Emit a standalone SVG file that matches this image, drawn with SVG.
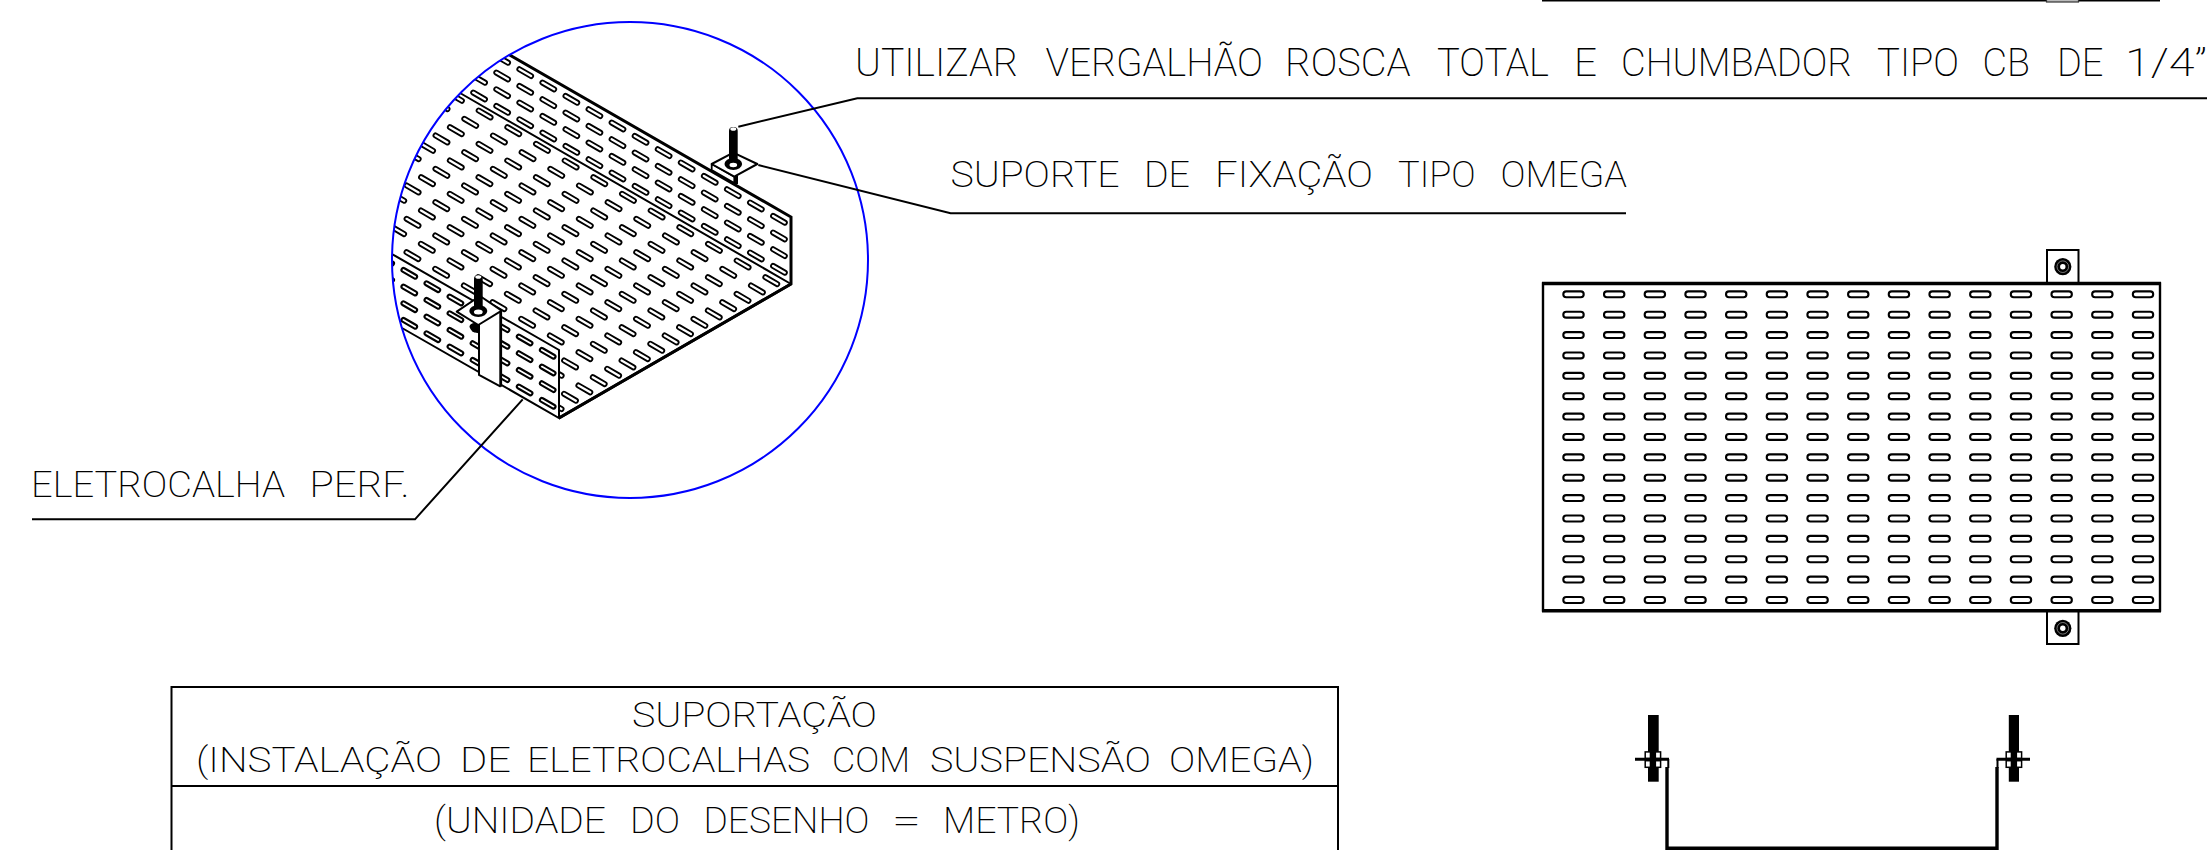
<svg xmlns="http://www.w3.org/2000/svg" width="2208" height="850" viewBox="0 0 2208 850">
<style>
text{font-family:"Roboto","Liberation Sans",sans-serif;font-weight:200;fill:#000}
.l{fill:none;stroke:#000;stroke-width:2}
.s{fill:none;stroke:#000;stroke-linecap:round}
.b{fill:#000}
.w{fill:#fff}
.slot-o{fill:none;stroke:#000;stroke-linecap:round;stroke-width:6}
.slot-i{fill:none;stroke:#fff;stroke-linecap:round;stroke-width:2.3}
.plan-o{fill:none;stroke:#000;stroke-linecap:round;stroke-width:8;stroke-dasharray:14.5 26.18}
.plan-i{fill:none;stroke:#fff;stroke-linecap:round;stroke-width:3.8;stroke-dasharray:14.5 26.18}
.d1{stroke-dasharray:13.7 19.46}
.d2{stroke-dasharray:13.5 13.14}
</style>
<defs>
<clipPath id="cCircle"><circle cx="630" cy="260" r="238"/></clipPath>
<clipPath id="cFloor"><polygon points="380,46.8 791,284 559,418 559,350 380,247"/></clipPath>
<clipPath id="cWall"><polygon points="400,-8.2 791,217 791,284 400,58.4"/></clipPath>
<clipPath id="cNear"><polygon points="380,247 559,350 559,418 380,315.4"/></clipPath>
<path id="pFloor" d="M205.65 202.15l355.9 206.9m-341.52 -215.23l355.9 206.9m-341.52 -215.23l355.9 206.9m-341.52 -215.23l355.9 206.9m-341.52 -215.23l355.9 206.9m-341.52 -215.23l355.9 206.9m-341.52 -215.23l355.9 206.9m-341.52 -215.23l355.9 206.9m-341.52 -215.23l355.9 206.9m-341.52 -215.23l355.9 206.9m-341.52 -215.23l355.9 206.9m-341.52 -215.23l355.9 206.9m-341.52 -215.23l355.9 206.9m-341.52 -215.23l355.9 206.9m-341.52 -215.23l355.9 206.9m-341.52 -215.23l355.9 206.9"/>
<path id="pWall" d="M404.05 2.62l380.8 220.06m-380.8 -203.39l380.8 220.06m-380.8 -203.39l380.8 220.06m-380.8 -203.39l380.8 220.06"/>
<path id="pNear" d="M357.3 243.3l196.3 113.4m-196.3 -96.73l196.3 113.4m-196.3 -96.73l196.3 113.4m-196.3 -96.73l196.3 113.4"/>
<path id="pPlan" d="M1566.25 294.3h584m-584 20.38h584m-584 20.38h584m-584 20.38h584m-584 20.38h584m-584 20.38h584m-584 20.38h584m-584 20.38h584m-584 20.38h584m-584 20.38h584m-584 20.38h584m-584 20.38h584m-584 20.38h584m-584 20.38h584m-584 20.38h584m-584 20.38h584"/>
<g id="ring"><circle r="8.6" class="b"/><circle r="5.8" fill="none" stroke="#aaa" stroke-width=".7"/><circle r="2.7" class="w"/></g>
<g id="nutpair">
<rect x="-7.7" y="-7.6" width="15.4" height="6.4" class="w" stroke="#000" stroke-width="1.5"/>
<rect x="-7.7" y="1.2" width="15.4" height="6.6" class="w" stroke="#000" stroke-width="1.5"/>
<rect x="-3.2" y="-7.6" width="6.4" height="15.4" class="b"/>
</g>
</defs>

<g id="top-edge-fragment">
<path class="l" d="M1542 .5H2160"/>
<rect x="2046.5" y="-2" width="32" height="4" fill="#bbb" stroke="#333" stroke-width="1.2"/>
</g>

<g id="detail-isometric">
<g clip-path="url(#cCircle)">
<g id="tray">
<g clip-path="url(#cFloor)"><use href="#pFloor" class="slot-o d1"/><use href="#pFloor" class="slot-i d1"/></g>
<g clip-path="url(#cWall)"><use href="#pWall" class="slot-o d2"/><use href="#pWall" class="slot-i d2"/></g>
<g clip-path="url(#cNear)"><use href="#pNear" class="slot-o d2"/><use href="#pNear" class="slot-i d2" style="stroke-width:1.8"/></g>
<path class="l" style="stroke-width:3" d="M508 54L791 217V284L559 418"/>
<path class="l" d="M460 93L791 284M392 254L559 350V418L402 328"/>
<path class="l" style="stroke-width:2.8" d="M559 418L791 284"/>
</g>
</g>
</g>

<g id="bracket-far">
<rect x="733" y="176" width="5" height="8" class="b"/>
<polygon points="711.7,164 734.3,176.7 734.3,183 711.7,170" class="w" stroke="#000" stroke-width="1.8" stroke-linejoin="round"/>
<polygon points="711.7,164 733.3,152.7 757.3,164 734.3,176.7" class="w" stroke="#000" stroke-width="2" stroke-linejoin="round"/>
<ellipse cx="733.3" cy="164" rx="8.8" ry="6" class="b"/>
<rect x="729" y="127" width="8.7" height="36" rx="4" class="b"/>
<ellipse cx="733.3" cy="129" rx="3" ry="1.8" class="w"/>
<ellipse cx="733.3" cy="165" rx="3.8" ry="2.2" class="w"/>
</g>

<g id="bracket-near">
<ellipse cx="476.8" cy="327.5" rx="6.5" ry="5.2" class="b"/>
<polygon points="479,323 500.7,311 500.7,386.7 479,375" class="w"/>
<path class="l" d="M479 323V375L500.7 386.7"/>
<path class="l" style="stroke-width:2.8" d="M500.7 311V386.7"/>
<polygon points="456.7,311.7 480,296 501.7,310.7 478.3,325" class="w" stroke="#000" stroke-width="2" stroke-linejoin="round"/>
<ellipse cx="478.3" cy="311" rx="9" ry="6" class="b"/>
<rect x="474" y="275" width="8.7" height="35" rx="4" class="b"/>
<ellipse cx="478.3" cy="277" rx="3" ry="1.8" class="w"/>
<ellipse cx="478.3" cy="312" rx="4.4" ry="2.5" class="w"/>
</g>

<circle id="detail-circle" cx="630" cy="260" r="238" fill="none" stroke="#0000ff" stroke-width="2"/>

<g id="connectors">
<path class="l" d="M738.3 126.7L857.3 98.3H2207"/>
<path class="l" d="M758.3 165L950.6 213.3H1626"/>
<path class="l" d="M522.7 399.3L415 519.3H32"/>
</g>

<g id="plan-view">
<use href="#pPlan" class="plan-o"/>
<use href="#pPlan" class="plan-i"/>
<rect x="1543" y="283.5" width="617" height="327" fill="none" stroke="#000" stroke-width="2.4"/>
<path class="l" style="stroke-width:3.6" d="M1542 283.5H2161M1542 610.7H2161"/>
<path class="l" d="M2047 283V250H2078.5V283M2047 611V644H2078.5V611"/>
<use href="#ring" x="2062.8" y="266.7"/>
<use href="#ring" x="2062.8" y="628.3"/>
</g>

<g id="section-view">
<path class="l" style="stroke-width:3.4" d="M1667 767V848.3H1997V767"/>
<path class="l" style="stroke-width:2" d="M1668.3 759V768M1997.5 759V768"/>
<rect x="1648" y="715" width="10.7" height="66.7" class="b"/>
<rect x="2008.8" y="715" width="10.2" height="66.7" class="b"/>
<path class="l" style="stroke-width:3" d="M1635 759.3H1669M1996.5 759.3H2030"/>
<use href="#nutpair" x="1652.9" y="759.5"/>
<use href="#nutpair" x="2013.9" y="759.5"/>
<path class="l" style="stroke-width:2.6" d="M1645 759.3H1660M2006 759.3H2022"/>
</g>

<g id="title-table">
<path class="l" d="M171.5 850V687H1338V850M171.5 786H1338"/>
<text y="726.7" font-size="35"><tspan x="632" textLength="245" lengthAdjust="spacingAndGlyphs">SUPORTAÇÃO</tspan></text>
<text y="772" font-size="35"><tspan x="196" textLength="246" lengthAdjust="spacingAndGlyphs">(INSTALAÇÃO</tspan> <tspan x="460" textLength="51" lengthAdjust="spacingAndGlyphs">DE</tspan> <tspan x="527" textLength="283" lengthAdjust="spacingAndGlyphs">ELETROCALHAS</tspan> <tspan x="832" textLength="78" lengthAdjust="spacingAndGlyphs">COM</tspan> <tspan x="930" textLength="221" lengthAdjust="spacingAndGlyphs">SUSPENSÃO</tspan> <tspan x="1169" textLength="145" lengthAdjust="spacingAndGlyphs">OMEGA)</tspan></text>
<text y="833" font-size="36"><tspan x="434" textLength="172" lengthAdjust="spacingAndGlyphs">(UNIDADE</tspan> <tspan x="630" textLength="50" lengthAdjust="spacingAndGlyphs">DO</tspan> <tspan x="703.5" textLength="166" lengthAdjust="spacingAndGlyphs">DESENHO</tspan> <tspan x="892" textLength="29" lengthAdjust="spacingAndGlyphs">=</tspan> <tspan x="943" textLength="137" lengthAdjust="spacingAndGlyphs">METRO)</tspan></text>
</g>

<g id="labels">
<text id="label-vergalhao" y="75.7" font-size="38"><tspan x="855" textLength="163" lengthAdjust="spacingAndGlyphs">UTILIZAR</tspan> <tspan x="1045.5" textLength="217.5" lengthAdjust="spacingAndGlyphs">VERGALHÃO</tspan> <tspan x="1285" textLength="125.6" lengthAdjust="spacingAndGlyphs">ROSCA</tspan> <tspan x="1437" textLength="112" lengthAdjust="spacingAndGlyphs">TOTAL</tspan> <tspan x="1574" textLength="23" lengthAdjust="spacingAndGlyphs">E</tspan> <tspan x="1621" textLength="231" lengthAdjust="spacingAndGlyphs">CHUMBADOR</tspan> <tspan x="1877" textLength="82" lengthAdjust="spacingAndGlyphs">TIPO</tspan> <tspan x="1982.6" textLength="47.4" lengthAdjust="spacingAndGlyphs">CB</tspan> <tspan x="2057" textLength="46.5" lengthAdjust="spacingAndGlyphs">DE</tspan> <tspan x="2125" textLength="82" lengthAdjust="spacingAndGlyphs">1/4”</tspan></text>
<text id="label-suporte" y="186.7" font-size="37"><tspan x="950.5" textLength="169.2" lengthAdjust="spacingAndGlyphs">SUPORTE</tspan> <tspan x="1144" textLength="46" lengthAdjust="spacingAndGlyphs">DE</tspan> <tspan x="1215" textLength="158" lengthAdjust="spacingAndGlyphs">FIXAÇÃO</tspan> <tspan x="1398" textLength="77.5" lengthAdjust="spacingAndGlyphs">TIPO</tspan> <tspan x="1500.5" textLength="126.5" lengthAdjust="spacingAndGlyphs">OMEGA</tspan></text>
<text id="label-eletrocalha" y="496.7" font-size="36"><tspan x="31" textLength="254" lengthAdjust="spacingAndGlyphs">ELETROCALHA</tspan> <tspan x="309.5" textLength="100" lengthAdjust="spacingAndGlyphs">PERF.</tspan></text>
</g>
</svg>
